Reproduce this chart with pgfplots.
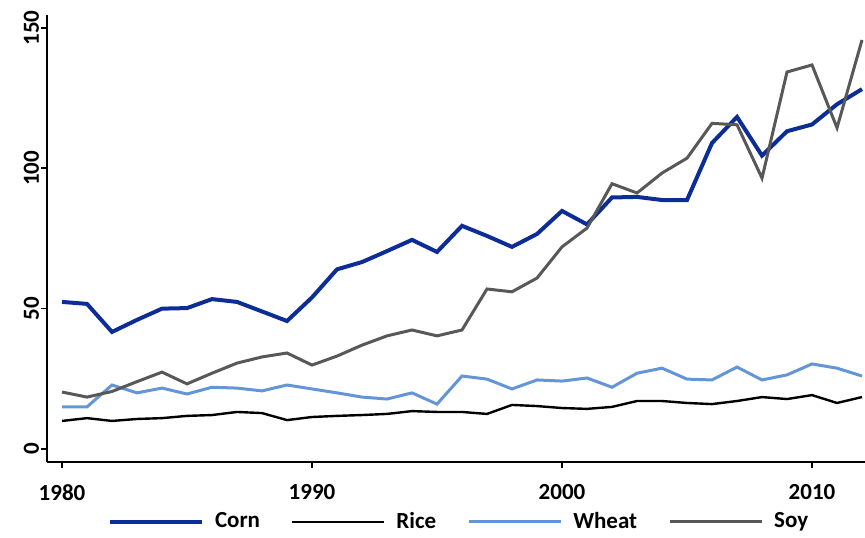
\documentclass[border=0pt]{standalone}
\usepackage{fontspec}
\setmainfont{Carlito}
\usepackage{pgfplots}
\usepackage{pgfplotstable}
\pgfplotsset{compat=1.18}
\definecolor{corn}{RGB}{12,45,150}
\definecolor{wheat}{RGB}{100,150,215}
\definecolor{soy}{RGB}{88,88,88}

\pgfplotstableread{
year corn rice wheat soy
1980 52.4 10.0 15.0 20.3
1981 51.7 11.0 15.0 18.5
1982 41.7 10.0 22.8 20.5
1983 46.0 10.7 20.0 24.0
1984 50.0 11.0 21.7 27.4
1985 50.2 11.8 19.6 23.2
1986 53.4 12.1 22.0 27.0
1987 52.4 13.2 21.7 30.6
1988 49.0 12.8 20.7 32.8
1989 45.6 10.3 22.8 34.2
1990 54.0 11.4 21.4 29.9
1991 64.0 11.8 20.0 33.1
1992 66.6 12.1 18.5 37.0
1993 70.5 12.5 17.8 40.3
1994 74.5 13.5 20.0 42.4
1995 70.2 13.2 16.0 40.3
1996 79.5 13.2 26.0 42.4
1997 75.9 12.5 24.9 57.0
1998 72.0 15.7 21.4 56.0
1999 76.6 15.3 24.6 60.9
2000 84.8 14.6 24.2 72.0
2001 80.0 14.3 25.3 78.7
2002 89.6 15.0 22.0 94.5
2003 89.8 17.1 27.0 91.2
2004 88.7 17.1 28.8 98.3
2005 88.7 16.4 24.9 103.6
2006 109.0 16.0 24.6 116.0
2007 118.3 17.1 29.2 115.5
2008 104.5 18.5 24.6 96.5
2009 113.2 17.8 26.4 134.3
2010 115.6 19.2 30.3 136.8
2011 122.8 16.4 28.8 114.4
2012 128.2 18.5 26.0 145.7
}\datatable

\begin{document}
\begin{tikzpicture}
\begin{axis}[name=ax,
  scale only axis, width=409pt, height=223.5pt,
  xmin=1979.4, xmax=2012.12, ymin=-4.63, ymax=154.6,
  axis x line*=bottom, axis y line*=left,
  axis line style={line width=0.9pt, -},
  xtick={1980,1990,2000,2010}, ytick={0,50,100,150},
  tick align=outside, major tick length=3pt,
  tick style={line width=0.8pt, black},
  /pgf/number format/assume math mode=true,
  /pgf/number format/1000 sep={},
  tick label style={font=\fontsize{11.5}{12}\selectfont\bfseries},
  yticklabel style={rotate=90, anchor=south},
  xticklabel shift=4.6pt,
  yticklabel shift=-2.5pt,
  legend columns=4,
  legend cell align=left,
  legend style={at={(0.505,-0.134)}, anchor=center, draw=none,
    font=\fontsize{11.5}{12}\selectfont\bfseries,
    /tikz/every even column/.append style={column sep=13.5pt}},
  legend image code/.code={\draw[#1] (0pt,0pt) -- (46pt,0pt); \path (49.5pt,0pt);},
]
\addplot[corn, line width=2pt] table[x=year, y=corn] {\datatable};
\addlegendentry{Corn}
\addplot[black, line width=1.2pt] table[x=year, y=rice] {\datatable};
\addlegendentry{Rice}
\addplot[wheat, line width=1.5pt] table[x=year, y=wheat] {\datatable};
\addlegendentry{Wheat}
\addplot[soy, line width=1.5pt] table[x=year, y=soy] {\datatable};
\addlegendentry{Soy}
\end{axis}
\pgfresetboundingbox
\path[use as bounding box] ([xshift=-23.5pt,yshift=-37.5pt]ax.south west) rectangle ([yshift=7.5pt]ax.north east);
\end{tikzpicture}
\end{document}
